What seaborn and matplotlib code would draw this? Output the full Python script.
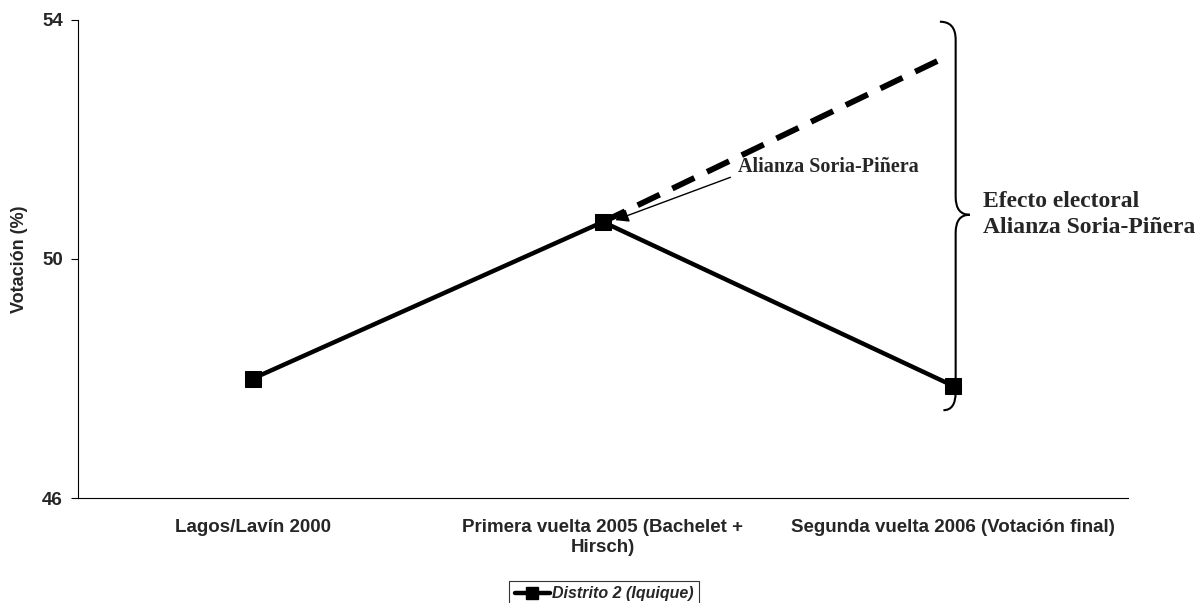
import numpy as np
import matplotlib
matplotlib.use('Agg')
import matplotlib.pyplot as plt
from matplotlib.path import Path
from matplotlib.patches import PathPatch
from matplotlib.lines import Line2D
import seaborn as sns

# data
categories = ['Lagos/Lavín 2000', 'Primera vuelta 2005 (Bachelet +\nHirsch)',
              'Segunda vuelta 2006 (Votación final)']
votos = [48.0, 50.62, 47.88]
proyeccion_x = [1.0, 1.98]
proyeccion_y = [50.62, 53.38]
yticks = [46, 50, 54]
serie = 'Distrito 2 (Iquique)'

sns.set_theme(style='white')
plt.rcParams['font.family'] = ['Liberation Sans', 'DejaVu Sans']

fig = plt.figure(figsize=(11.97, 6.03), dpi=100)
ax = fig.add_axes([0.0652, 0.174, 0.877, 0.793])

x = np.arange(len(categories))
sns.lineplot(x=x, y=votos, ax=ax, color='black', linewidth=3.2, marker='s',
             markersize=11.5, markeredgecolor='black', zorder=3)
ax.plot(proyeccion_x, proyeccion_y, color='black', linewidth=4.2,
        dashes=(4.2, 2.4), zorder=2)

ax.set_xlim(-0.5, 2.5)
ax.set_ylim(46, 54)
ax.set_yticks(yticks)
ax.set_yticklabels([str(t) for t in yticks], fontsize=13.5, fontweight='bold')
ax.set_xticks(x)
ax.set_xticklabels(categories, fontsize=13.5, fontweight='bold')
ax.tick_params(axis='x', length=0, pad=15)
ax.set_xticks([-0.5, 0.5, 1.5, 2.5], minor=True)
ax.tick_params(axis='x', which='minor', length=5, width=0.8, color='black', direction='out')
ax.tick_params(axis='y', length=5, width=0.8, color='black', direction='out', left=True, pad=6)
ax.set_ylabel('Votación (%)', fontsize=13, fontweight='bold', labelpad=10)
for side in ['top', 'right']:
    ax.spines[side].set_visible(False)
for side in ['left', 'bottom']:
    ax.spines[side].set_color('black')
    ax.spines[side].set_linewidth(0.8)

# arrow annotation
ax.annotate('Alianza Soria-Piñera', xy=(1.035, 50.65), xytext=(1.385, 51.45),
            fontsize=14.5, fontweight='bold', family='Liberation Serif',
            ha='left', va='baseline', zorder=5,
            arrowprops=dict(arrowstyle='-|>', color='black', lw=1.0,
                            mutation_scale=20, shrinkA=0, shrinkB=0,
                            relpos=(-0.04, 0.0)))

# curly brace
x0, w = 2.008, 0.04
ytop, ybot, ymid, d = 53.97, 47.47, 50.74, 0.3
verts = [(x0 - 0.045, ytop), (x0, ytop), (x0, ytop - d), (x0, ytop - d * 1.5),
         (x0, ymid + d), (x0, ymid), (x0 + w, ymid),
         (x0, ymid), (x0, ymid - d),
         (x0, ybot + d * 1.5), (x0, ybot + d), (x0, ybot), (x0 - 0.035, ybot)]
codes = [Path.MOVETO, Path.CURVE3, Path.CURVE3, Path.LINETO,
         Path.LINETO, Path.CURVE3, Path.CURVE3,
         Path.CURVE3, Path.CURVE3,
         Path.LINETO, Path.LINETO, Path.CURVE3, Path.CURVE3]
ax.add_patch(PathPatch(Path(verts, codes), facecolor='none', edgecolor='black',
                       lw=1.5, clip_on=False))
ax.text(2.085, 50.75, 'Efecto electoral\nAlianza Soria-Piñera', fontsize=17,
        fontweight='bold', family='Liberation Serif', ha='left', va='center',
        linespacing=1.3)

# legend box at the bottom
handle = Line2D([], [], color='black', linewidth=3.2, marker='s', markersize=8.5)
leg = fig.legend([handle], [serie], loc='upper center',
                 bbox_to_anchor=(0.5046, 0.037), frameon=True, fancybox=False,
                 handlelength=2.2, handletextpad=0.1, borderpad=0.35,
                 borderaxespad=0.0,
                 prop={'size': 11.5, 'weight': 'bold', 'style': 'italic'})
leg.get_frame().set_edgecolor('black')
leg.get_frame().set_linewidth(0.8)

fig.savefig('out.png', dpi=100)
